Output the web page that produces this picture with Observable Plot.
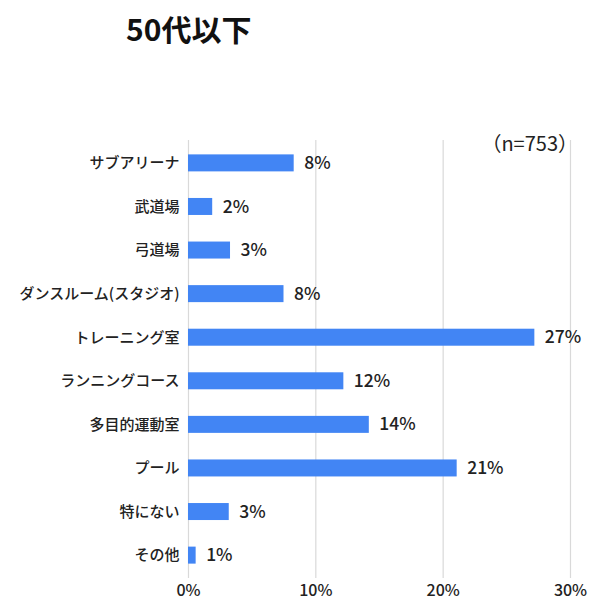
<!DOCTYPE html>
<html><head><meta charset="utf-8">
<script src="https://cdn.jsdelivr.net/npm/d3@7"></script>
<script src="https://cdn.jsdelivr.net/npm/@observablehq/plot@0.6"></script>
<style>
html,body{margin:0;padding:0;background:#fff;overflow:hidden;}
#wrap{position:relative;width:592px;height:602px;font-family:"Noto Sans CJK JP","Noto Sans",sans-serif;}
#title{height:55px;box-sizing:border-box;padding-left:126px;padding-top:9px;font-size:30px;font-weight:bold;color:#111;line-height:38px;}
#n{position:absolute;right:14px;top:129px;font-size:20px;line-height:28px;color:#222;}
</style></head>
<body><div id="wrap"><div id="title">50代以下</div><div id="n">（n=753）</div><div id="chart"></div></div>
<script>
const categories = ["サブアリーナ","武道場","弓道場","ダンスルーム(スタジオ)","トレーニング室","ランニングコース","多目的運動室","プール","特にない","その他"];
const values = [8.3, 1.9, 3.3, 7.5, 27.2, 12.2, 14.2, 21.1, 3.2, 0.6];
const xTicks = [0, 10, 20, 30];

const data = categories.map((c, i) => ({cat: c, v: values[i], label: Math.round(values[i]) + "%"}));

const chart = Plot.plot({
  width: 592,
  height: 547,
  marginLeft: 188,
  marginRight: 22,
  marginTop: 85,
  marginBottom: 24,
  style: {fontFamily: '"Noto Sans CJK JP","Noto Sans",sans-serif', color: "#222", background: "#fff"},
  x: {domain: [0, 30], ticks: xTicks, tickFormat: d => d + "%", label: null},
  y: {domain: categories, paddingInner: 0.61, paddingOuter: 0.33, round: false, label: null},
  marks: [
    Plot.ruleX(xTicks, {stroke: "#d9d9d9", strokeWidth: 1.2}),
    Plot.barX(data, {x: "v", y: "cat", fill: "#4285f4"}),
    Plot.text(data, {x: "v", y: "cat", text: "label", textAnchor: "start", dx: 10, fontSize: 17.5, fontWeight: 500, fill: "#222"}),
    Plot.axisY({tickSize: 0, tickPadding: 9, fontSize: 15, fontWeight: 500, label: null}),
    Plot.axisX(xTicks, {tickSize: 0, tickPadding: 6, fontSize: 16, fontWeight: 500, label: null, tickFormat: d => d + "%"})
  ]
});
document.getElementById("chart").appendChild(chart);
</script></body></html>
